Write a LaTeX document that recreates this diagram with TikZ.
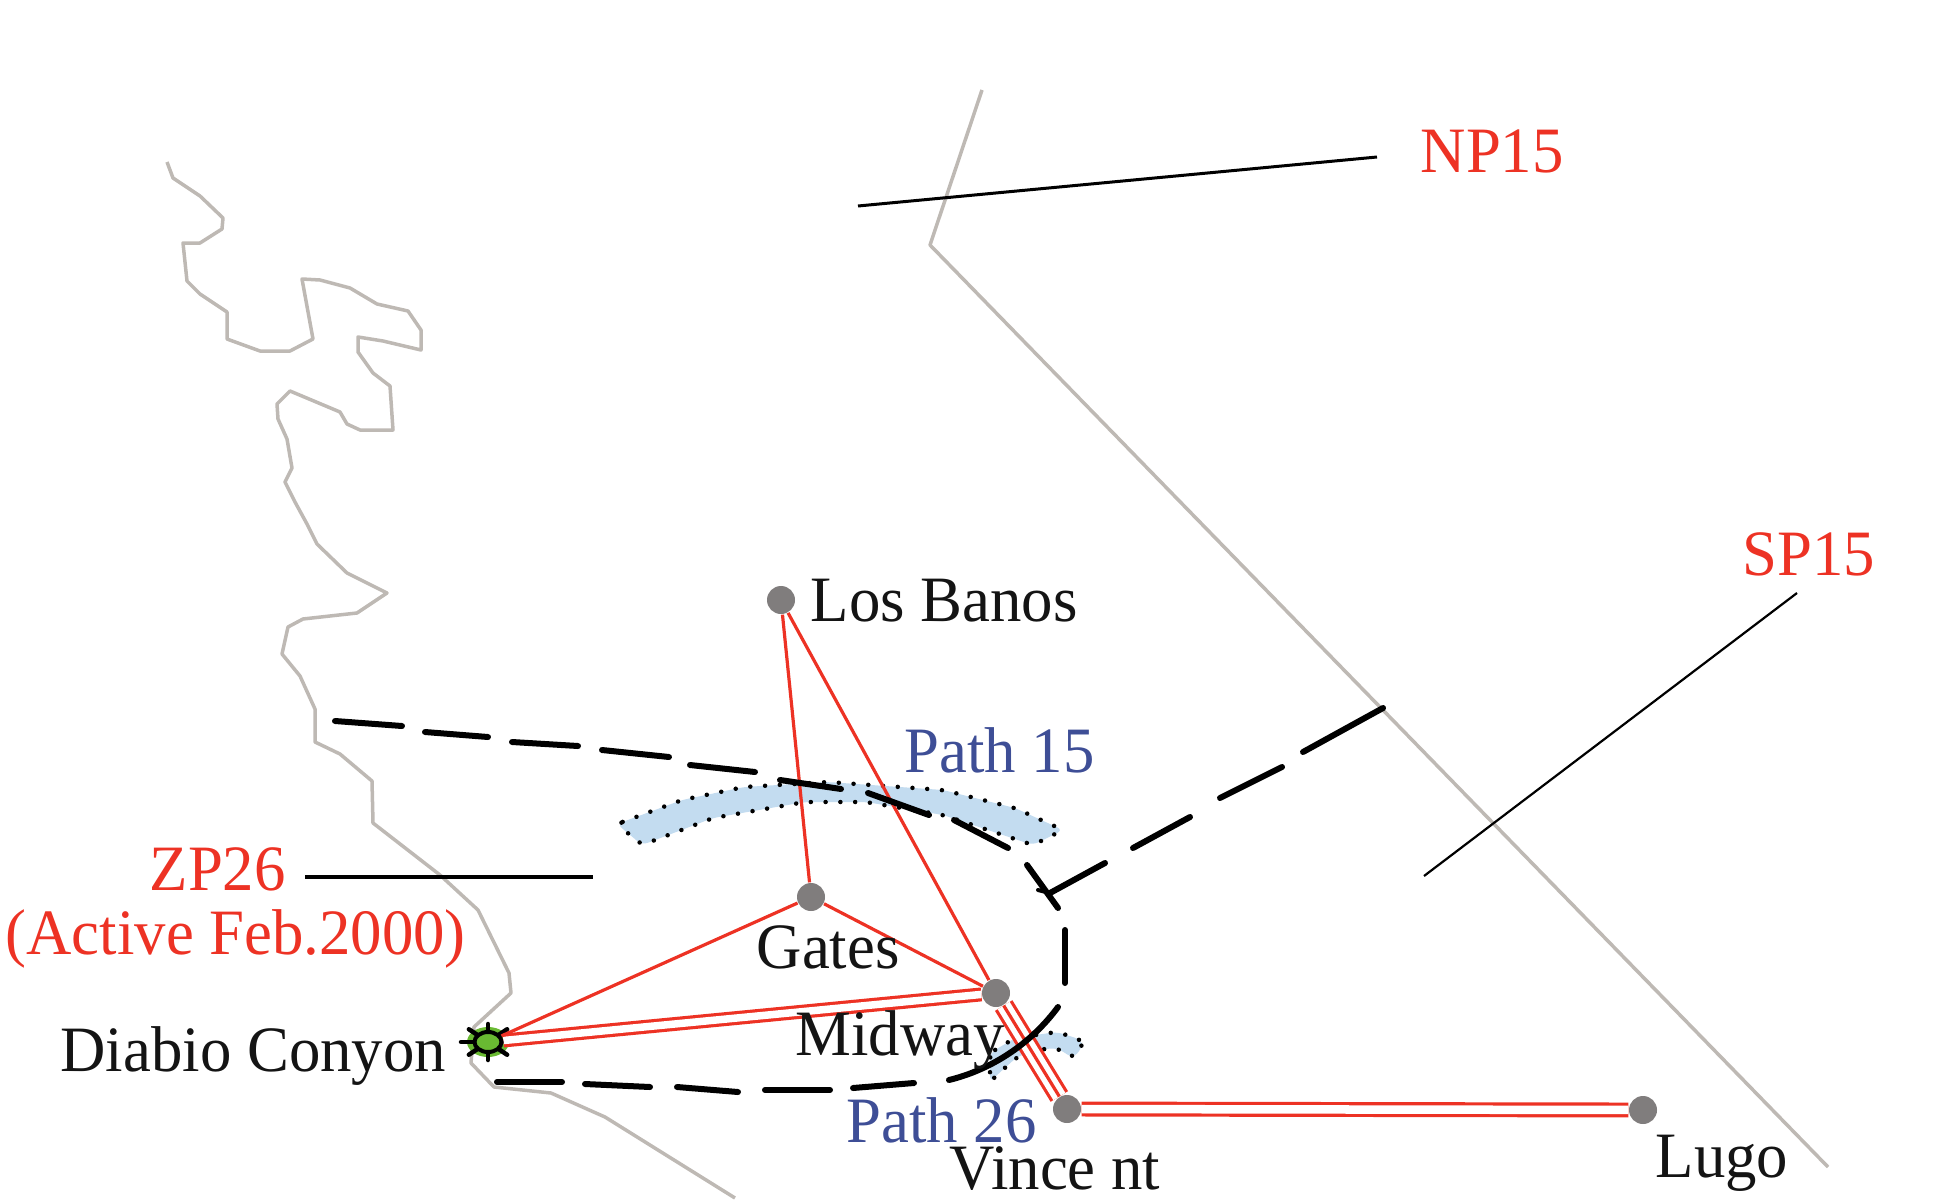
\documentclass[tikz,border=0pt]{standalone}
\usepackage{fontspec}
\setmainfont{Liberation Serif}
\usepackage{xcolor}
\usetikzlibrary{shapes,backgrounds}
\definecolor{mapred}{RGB}{237,50,36}
\definecolor{mapblue}{RGB}{62,78,150}
\definecolor{mapgray}{RGB}{128,125,125}
\definecolor{coastgray}{RGB}{190,185,180}
\definecolor{bandblue}{RGB}{195,220,240}
\definecolor{plantgreen}{RGB}{105,185,50}
\begin{document}
\begin{tikzpicture}[x=.01cm, y=-.01cm, -, main node/.style={circle, fill=mapgray, minimum size=.28cm, inner sep=0},
plant node/.style={ellipse, draw=black, line width=.04cm, fill=plantgreen, minimum width=.27cm, minimum height=.2cm, inner sep=0},
label node/.style={anchor=base west, inner sep=0, xscale=.97, font=\fontsize{18.4}{20}\selectfont, text=black!92},
zone label/.style={label node, text=mapred}, path label/.style={label node, text=mapblue},
coast line/.style={coastgray, line width=.035cm, line join=round},
zone line/.style={black, line width=.06cm, line cap=round},
thin line/.style={black, line width=.03cm},
tie line/.style={mapred, line width=.032cm},
pair line/.style={tie line, double=white, double distance=.075cm},
wide line/.style={tie line, double=white, double distance=.14cm},
band/.style={fill=bandblue, draw=black, line width=.045cm, line cap=round, line join=round, rounded corners=.06cm, dash pattern=on 0pt off 4.2pt}]
\useasboundingbox (0,0) rectangle (1933,1200);
\node[main node] (losbanos) at (781,600) {};
\node[main node] (gates) at (811,897) {};
\node[main node] (midway) at (996,993) {};
\node[main node] (vincent) at (1067,1109) {};
\node[main node] (lugo) at (1643,1110) {};
\node[plant node] (diablo) at (488,1042) {};
\coordinate (np1) at (858,206);
\coordinate (np2) at (1377,157);
\coordinate (sp1) at (1424,876);
\coordinate (sp2) at (1797,593);
\coordinate (zp1) at (305,877);
\coordinate (zp2) at (593,877);
\node[zone label] (nplabel) at (1420,172) {NP15};
\node[zone label] (splabel) at (1742,575) {SP15};
\node[zone label] (zplabel) at (149,890) {ZP26};
\node[zone label] (activelabel) at (5,954) {(Active Feb.2000)};
\node[path label] (p15label) at (904,772) {Path 15};
\node[path label] (p26label) at (846,1142) {Path 26};
\node[label node] (loslabel) at (810,621) {Los Banos};
\node[label node] (gateslabel) at (756,968) {Gates};
\node[label node] (midlabel) at (795,1055) {Midway};
\node[label node] (diablolabel) at (60,1071) {Diabio Conyon};
\node[label node] (vinlabel) at (949,1189) {Vince nt};
\node[label node] (lugolabel) at (1655,1177) {Lugo};
\begin{scope}[on background layer]
\draw[coast line] plot coordinates {(167,162) (173,178) (200,196) (223,218) (222,229) (200,243) (183,243) (187,281) (200,294) (227,312) (227,339) (260,351) (290,351) (313,339) (302,279) (320,280) (350,288) (377,304) (408,311) (421,330) (421,350) (383,341) (358,337) (358,352) (373,373) (390,386) (393,430) (360,430) (347,424) (340,412) (290,391) (277,404) (278,419) (287,439) (292,468) (285,482) (295,502) (307,524) (317,544) (347,573) (387,593) (357,613) (303,619) (288,627) (282,654) (300,676) (315,709) (315,742) (340,754) (372,781) (373,823) (440,875) (478,910) (509,973) (511,993) (474,1027) (471,1063) (494,1087) (551,1093) (605,1117) (735,1198)};
\draw[coast line] plot coordinates {(982,90) (930,245) (1828,1167)};
\fill[plantgreen] (488,1042) ellipse (21 and 15);
\foreach \a in {0,45,...,315} \draw[black, line width=.045cm, line cap=round] (488,1042) -- ++(\a:27 and 18);
\draw[band] (617,824) -- (682,800) -- (744,787) -- (828,782) -- (943,790) -- (1015,808) -- (1063,830) -- (1033,845) -- (943,815) -- (866,802) -- (805,802) -- (713,818) -- (642,845) -- cycle;
\draw[band] (990,1053) -- (1015,1038) -- (1035,1035) -- (1057,1032) -- (1082,1040) -- (1082,1048) -- (1073,1058) -- (1057,1048) -- (1035,1050) -- (1017,1057) -- (997,1075) -- (990,1082) -- cycle;
\draw[thin line] (np1) -- (np2);
\draw[thin line, line width=.022cm] (sp1) -- (sp2);
\draw[thin line, line width=.035cm] (zp1) -- (zp2);
\path (diablo) edge[pair line] (midway)
(midway) edge[wide line] (vincent)
(vincent) edge[pair line, double distance=.085cm] (lugo);
\path[tie line]
(losbanos) edge (gates)
(losbanos) edge (midway)
(diablo) edge (gates)
(gates) edge (midway)
(midway) edge (vincent);
\foreach \a/\b in {{335,721}/{402,726},{425,732}/{488,737},{512,742}/{578,746},{602,750}/{669,757},{690,765}/{755,772},{780,780}/{841,789},{868,793}/{929,815},{954,820}/{1008,848},{1383,708}/{1303,752},{1282,767}/{1220,798},{1190,817}/{1133,848},{1105,863}/{1050,893},{1027,865}/{1058,908},{1065,930}/{1065,983},{497,1082}/{562,1082},{585,1084}/{650,1087},{677,1087}/{738,1092},{765,1090}/{830,1090},{853,1088}/{914,1083}}
\draw[zone line] (\a) -- (\b);
\draw[zone line] (949,1080) .. controls (990,1070) and (1030,1045) .. (1058,1007);
\draw[zone line, line width=.04cm] (1038,890) -- (1050,893);
\end{scope}
\end{tikzpicture}
\end{document}
